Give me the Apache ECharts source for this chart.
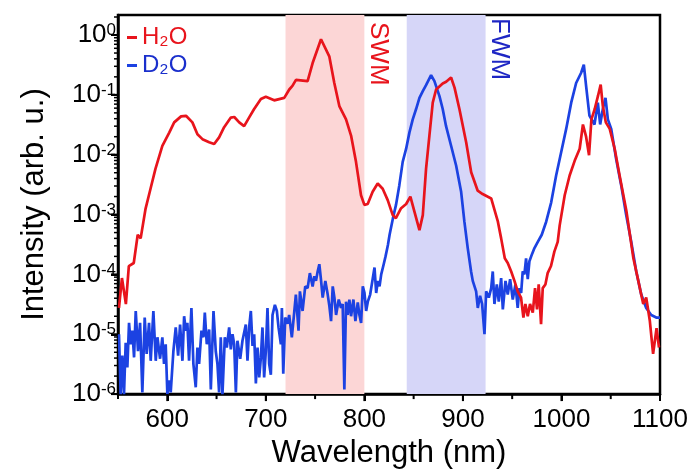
<!DOCTYPE html>
<html>
<head>
<meta charset="utf-8">
<script src="https://cdn.jsdelivr.net/npm/echarts@6/dist/echarts.min.js"></script>
<style>
  html, body { margin: 0; padding: 0; background: #fff; }
  #chart { width: 700px; height: 474px; }
</style>
</head>
<body>
<div id="chart"></div>
<script>
// wavelengths (nm) and intensities
var h2oWl = [551,554,558,561,566,570,573,578,583,588,
  595,602,607,614,619,625.5,630.6,635.7,642.5,647.6,
  652.6,657.7,664.5,668,673,678,683,688,695,700,
  708.5,718.7,723.8,727,730.6,742.4,744,747.5,756,764.4,
  769.5,774.6,781.4,786.5,791.5,796.6,800,803.4,808.4,813.5,
  818.6,823.7,828.8,832,837,842.4,846.7,850.8,855.9,859.3,
  862.6,866,869.4,872.8,879.5,883,888,891.5,896.5,903.3,
  908.4,915,920,928.7,935.5,938.8,942.5,945.5,949,952.3,
  955.6,959,961.4,963.4,965.8,968.1,970.9,973.2,975.2,976.9,
  979.3,981,983.7,986,989.4,992.8,996.2,998.2,1003.3,1008.3,
  1013.4,1018.5,1021.8,1025,1028,1030.4,1033.7,1037,1039.8,1042,
  1045,1049,1054,1059,1066,1073,1078,1083,1086,1089.7,
  1093,1096.5,1099];
var h2oI = [2.75e-5,8.7e-5,3.2e-5,1.38e-4,1.55e-4,4.6e-4,4.0e-4,1.26e-3,2.7e-3,5.8e-3,
  0.0141,0.0234,0.0347,0.0437,0.0447,0.0347,0.0219,0.0182,0.0162,0.0151,
  0.0195,0.0288,0.0417,0.0427,0.0347,0.030,0.0417,0.0575,0.085,0.093,
  0.081,0.089,0.123,0.141,0.178,0.17,0.162,0.34,0.85,0.44,
  0.158,0.065,0.039,0.0209,7.6e-3,2.1e-3,1.45e-3,1.5e-3,2.4e-3,3.3e-3,
  2.7e-3,1.74e-3,9.8e-4,8.7e-4,1.26e-3,1.5e-3,2.0e-3,1.12e-3,5.5e-4,9.8e-4,
  5.8e-3,0.0209,0.074,0.123,0.155,0.166,0.195,0.132,0.0575,0.0162,
  5.1e-3,2.5e-3,2.2e-3,1.86e-3,7.6e-4,4.0e-4,1.86e-4,1.55e-4,1.12e-4,7.8e-5,
  5.2e-5,4.1e-5,1.9e-5,3.2e-5,2.0e-5,3.2e-5,2.3e-5,5.9e-5,2.6e-5,6.8e-5,
  1.48e-5,5.9e-5,6.8e-5,1.05e-4,1.38e-4,2.4e-4,3.5e-4,6.6e-4,2.1e-3,4.5e-3,
  7.9e-3,0.0126,0.032,0.020,9.8e-3,0.039,0.0575,0.095,0.148,0.065,
  0.0347,0.027,0.0126,4.5e-3,1.12e-3,1.86e-4,7.8e-5,3.2e-5,4.1e-5,1.66e-5,
  4.7e-6,1.26e-5,6.0e-6];

var d2oWl = [551.0,552.7,554.4,556.1,557.8,559.5,561.2,562.9,564.6,566.3,
  568.0,570.3,572.4,574.7,577.1,579.1,581.5,583.2,585.9,588.3,
  590.0,592.7,595.0,596.7,598.4,600.1,601.8,603.5,606.2,608.6,
  611.0,613.0,615.4,617.1,618.8,620.4,622.1,624.5,626.5,628.9,
  630.6,632.3,634.7,636.7,638.1,640.1,642.5,644.2,646.9,649.2,
  650.9,652.6,654.3,656.0,658.4,660.4,662.8,664.5,666.2,667.9,
  669.6,671.2,674.0,676.3,679.7,681.4,683.1,684.8,686.5,688.2,
  689.9,691.6,693.3,695.0,696.6,698.3,700.0,701.7,703.4,705.1,
  706.8,709.2,711.2,712.9,715.3,716.3,717.7,719.7,722.0,723.7,
  726.4,728.8,730.5,733.2,734.6,737.3,740.0,742.4,744.7,747.5,
  749.2,750.9,752.6,754.3,756.0,757.7,760.4,762.8,764.5,766.2,
  767.9,769.6,771.3,774.0,776.3,778.0,779.7,781.4,783.1,784.8,
  786.5,788.9,790.9,793.3,795.0,796.7,798.4,800.1,801.8,803.5,
  805.9,808.6,810.3,812.0,813.7,815.4,817.1,819.5,821.5,823.9,
  825.6,829.0,832.1,835.5,838.9,842.4,845.7,849.1,852.5,855.9,
  859.3,862.6,867.7,871.1,876.2,879.5,882.9,888.0,893.1,898.2,
  901.5,904.9,908.3,910.0,913.4,915.1,917.4,919.5,921.9,923.6,
  926.3,928.7,930.3,932.0,934.4,936.4,938.8,940.5,943.2,945.5,
  947.9,950.6,953.3,955.6,957.4,959.1,960.7,962.4,964.1,965.8,
  967.5,970.2,972.6,976.0,980.0,984.5,989.6,994.6,999.7,1004.8,
  1009.9,1014.9,1020.0,1022.7,1025.0,1028.4,1033.5,1036.9,1039.3,1042.0,
  1044.7,1047.1,1050.5,1055.5,1060.6,1065.7,1070.8,1075.9,1081.0,1086.0,
  1091.1,1096.2,1100.0];
var d2oI = [1.0e-5,1.0e-6,4.4e-6,1.0e-6,7.2e-6,2.8e-6,1.55e-5,6.8e-6,1.15e-5,4.1e-6,
  2.45e-5,5.2e-6,1.55e-5,1.07e-6,1.9e-5,4.7e-6,1.55e-5,3.6e-6,2.45e-5,3.6e-6,
  8.9e-6,3.9e-6,8.9e-6,3.2e-6,6.8e-6,1.0e-6,1.7e-6,1.07e-6,5.2e-6,1.3e-5,
  4.4e-6,1.45e-5,3.6e-6,2.0e-5,1.15e-5,1.55e-5,3.6e-6,2.75e-5,3.2e-6,1.3e-6,
  6.0e-6,3.2e-6,1.15e-5,8.9e-6,2.3e-5,6.8e-6,1.2e-5,1.2e-6,2.45e-5,5.2e-6,
  3.2e-6,1.07e-6,8.9e-6,1.0e-6,8.9e-6,6.0e-6,1.3e-5,5.6e-6,1.0e-5,6.8e-6,
  1.07e-6,7.8e-6,3.9e-6,7.8e-6,1.45e-5,3.6e-6,1.3e-5,2.45e-5,6.4e-6,1.0e-5,
  1.5e-6,6.0e-6,1.9e-6,4.1e-6,1.3e-5,1.9e-6,5.2e-6,2.75e-5,3.2e-6,2.1e-6,
  2.1e-5,3.1e-5,2.45e-5,1.3e-5,6.8e-6,2.75e-5,2.2e-6,1.9e-5,1.5e-5,2.1e-5,
  8.9e-6,2.3e-5,4.6e-5,1.15e-5,5.2e-5,2.45e-5,6.3e-5,5.9e-5,1.05e-4,6.3e-5,
  9.3e-5,7.8e-5,1.12e-4,1.48e-4,8.1e-5,4.1e-5,7.8e-5,4.6e-5,2.95e-5,1.66e-5,
  6.3e-5,4.1e-5,2.1e-5,3.8e-5,2.75e-5,3.2e-5,1.2e-6,3.5e-5,2.1e-5,3.8e-5,
  2.0e-5,3.8e-5,1.66e-5,3.4e-5,2.1e-5,1.55e-5,6.3e-5,4.9e-5,2.45e-5,3.5e-5,
  4.6e-5,8.7e-5,1.3e-4,4.9e-5,7.8e-5,6.3e-5,1.0e-4,1.45e-4,2.0e-4,3.1e-4,
  4.6e-4,8.7e-4,1.45e-3,3.1e-3,7.6e-3,0.0126,0.0234,0.039,0.058,0.089,
  0.115,0.145,0.214,0.17,0.095,0.058,0.030,0.0141,6.6e-3,2.4e-3,
  7.6e-4,2.75e-4,1.12e-4,7.8e-5,5.2e-5,2.75e-5,4.4e-5,3.2e-5,1.0e-5,5.2e-5,
  4.1e-5,5.9e-5,1.12e-4,3.2e-5,6.8e-5,3.5e-5,8.7e-5,2.6e-5,7.8e-5,4.6e-5,
  8.3e-5,3.8e-5,6.8e-5,2.75e-5,5.9e-5,4.9e-5,1.12e-4,1.0e-4,1.86e-4,8.3e-5,
  1.66e-4,2.2e-4,2.75e-4,3.5e-4,4.6e-4,7.6e-4,1.6e-3,4.5e-3,0.011,0.027,
  0.074,0.158,0.234,0.32,0.141,0.045,0.032,0.074,0.032,0.058,
  0.089,0.039,0.027,8.5e-3,3.1e-3,9.8e-4,3.5e-4,1.12e-4,4.6e-5,2.75e-5,
  2.1e-5,1.9e-5,1.9e-5];

// shaded bands (nm)
var swmBand = [720, 800];
var fwmBand = [843, 923];

// axes
var xMin = 550, xMax = 1100;
var xMajor = [600, 700, 800, 900, 1000, 1100];
var xMinor = [550, 650, 750, 850, 950, 1050];
var yMin = 1e-6, yMax = 2.16;
var yMajor = [1e-6, 1e-5, 1e-4, 1e-3, 1e-2, 1e-1, 1];
var yMinorMult = [2, 3, 4, 5, 6, 7, 8, 9];

var RED = '#e8141c';
var BLUE = '#1c42e2';
var FONT = '"Liberation Sans", Arial, Helvetica, sans-serif';

var yMinor = [];
yMajor.forEach(function (d) {
  yMinorMult.forEach(function (m) {
    if (d * m < yMax) yMinor.push(d * m);
  });
});

function pairs(xs, ys) {
  var out = [];
  for (var i = 0; i < xs.length; i++) out.push([xs[i], ys[i]]);
  return out;
}

// short tick marks placed with the axes' own scales
function tickSeries(points, dx, dy, width) {
  return {
    type: 'custom', silent: true, clip: false, z: 5,
    encode: { x: 0, y: 1 },
    data: points,
    renderItem: function (params, api) {
      var p = api.coord([api.value(0), api.value(1)]);
      return {
        type: 'line',
        shape: { x1: p[0], y1: p[1], x2: p[0] + dx, y2: p[1] + dy },
        style: { stroke: '#000', lineWidth: width }
      };
    }
  };
}

// rotated band label anchored at the band's right edge, top of the plot
function bandLabel(text, xVal, color, dy) {
  return {
    type: 'custom', silent: true, clip: false, z: 6,
    encode: { x: 0, y: 1 },
    data: [[xVal, yMax]],
    renderItem: function (params, api) {
      var p = api.coord([api.value(0), api.value(1)]);
      return {
        type: 'text', x: p[0] + 1, y: p[1] + dy, rotation: -Math.PI / 2,
        style: { text: text, fill: color, font: '26px ' + FONT, align: 'left', verticalAlign: 'bottom' }
      };
    }
  };
}

var chart = echarts.init(document.getElementById('chart'));

var option = {
  animation: false,
  backgroundColor: '#fff',
  grid: {
    left: 118, top: 15, right: 40, bottom: 77,
    show: true, borderColor: '#000', borderWidth: 2.5
  },
  legend: {
    orient: 'vertical',
    left: 122, top: 20,
    icon: 'rect',
    itemWidth: 10, itemHeight: 3, itemGap: 3,
    textStyle: { fontSize: 24, fontFamily: FONT, lineHeight: 25 },
    data: [
      { name: 'H₂O', textStyle: { color: RED } },
      { name: 'D₂O', textStyle: { color: '#1a2fcc' } }
    ]
  },
  xAxis: {
    type: 'value', min: xMin, max: xMax, position: 'bottom',
    name: 'Wavelength (nm)', nameLocation: 'middle', nameGap: 41,
    nameTextStyle: { fontSize: 31, fontFamily: FONT, color: '#000' },
    axisLine: { show: true, onZero: false, lineStyle: { color: '#000', width: 2.5 } },
    axisTick: { show: true, length: 7, lineStyle: { width: 2, color: '#000' }, customValues: xMajor },
    axisLabel: {
      show: true, customValues: xMajor, margin: 13, fontSize: 26, fontFamily: FONT, color: '#000',
      formatter: function (v) { return String(v); }
    },
    splitLine: { show: false }
  },
  yAxis: {
    type: 'log', logBase: 10, min: yMin, max: yMax, position: 'left',
    name: 'Intensity (arb. u.)', nameLocation: 'middle', nameGap: 68,
    nameTextStyle: { fontSize: 31, fontFamily: FONT, color: '#000' },
    axisLine: { show: true, onZero: false, lineStyle: { color: '#000', width: 2.5 } },
    axisTick: { show: true, length: 7, lineStyle: { width: 2, color: '#000' }, customValues: yMajor },
    axisLabel: {
      show: true, customValues: yMajor, margin: 2, color: '#000',
      formatter: function (v) {
        var e = Math.round(Math.log(v) / Math.LN10);
        return '{b|10}{s|' + (e < 0 ? '-' + (-e) : e) + '}';
      },
      rich: {
        b: { fontSize: 26, fontFamily: FONT, color: '#000', lineHeight: 26 },
        s: { fontSize: 17, fontFamily: FONT, color: '#000', verticalAlign: 'top', lineHeight: 17 }
      }
    },
    splitLine: { show: false }
  },
  series: [
    {
      name: 'D₂O', type: 'line',
      data: pairs(d2oWl, d2oI),
      showSymbol: false, symbol: 'none',
      lineStyle: { color: BLUE, width: 2.7 },
      itemStyle: { color: BLUE },
      markArea: {
        silent: true,
        data: [
          [{ xAxis: swmBand[0], itemStyle: { color: '#fcd6d6' } }, { xAxis: swmBand[1] }],
          [{ xAxis: fwmBand[0], itemStyle: { color: '#d6d6f8' } }, { xAxis: fwmBand[1] }]
        ]
      }
    },
    {
      name: 'H₂O', type: 'line',
      data: pairs(h2oWl, h2oI),
      showSymbol: false, symbol: 'none',
      lineStyle: { color: RED, width: 2.7 },
      itemStyle: { color: RED }
    },
    tickSeries(xMajor.map(function (v) { return [v, yMin]; }), 0, 7, 2),
    tickSeries(xMinor.map(function (v) { return [v, yMin]; }), 0, 5, 2),
    tickSeries(yMajor.map(function (v) { return [xMin, v]; }), -7, 0, 2),
    tickSeries(yMinor.map(function (v) { return [xMin, v]; }), -4, 0, 1.5),
    bandLabel('SWM', swmBand[1], RED, 7),
    bandLabel('FWM', fwmBand[1], '#1e26c4', 3)
  ]
};

chart.setOption(option);
</script>
</body>
</html>
